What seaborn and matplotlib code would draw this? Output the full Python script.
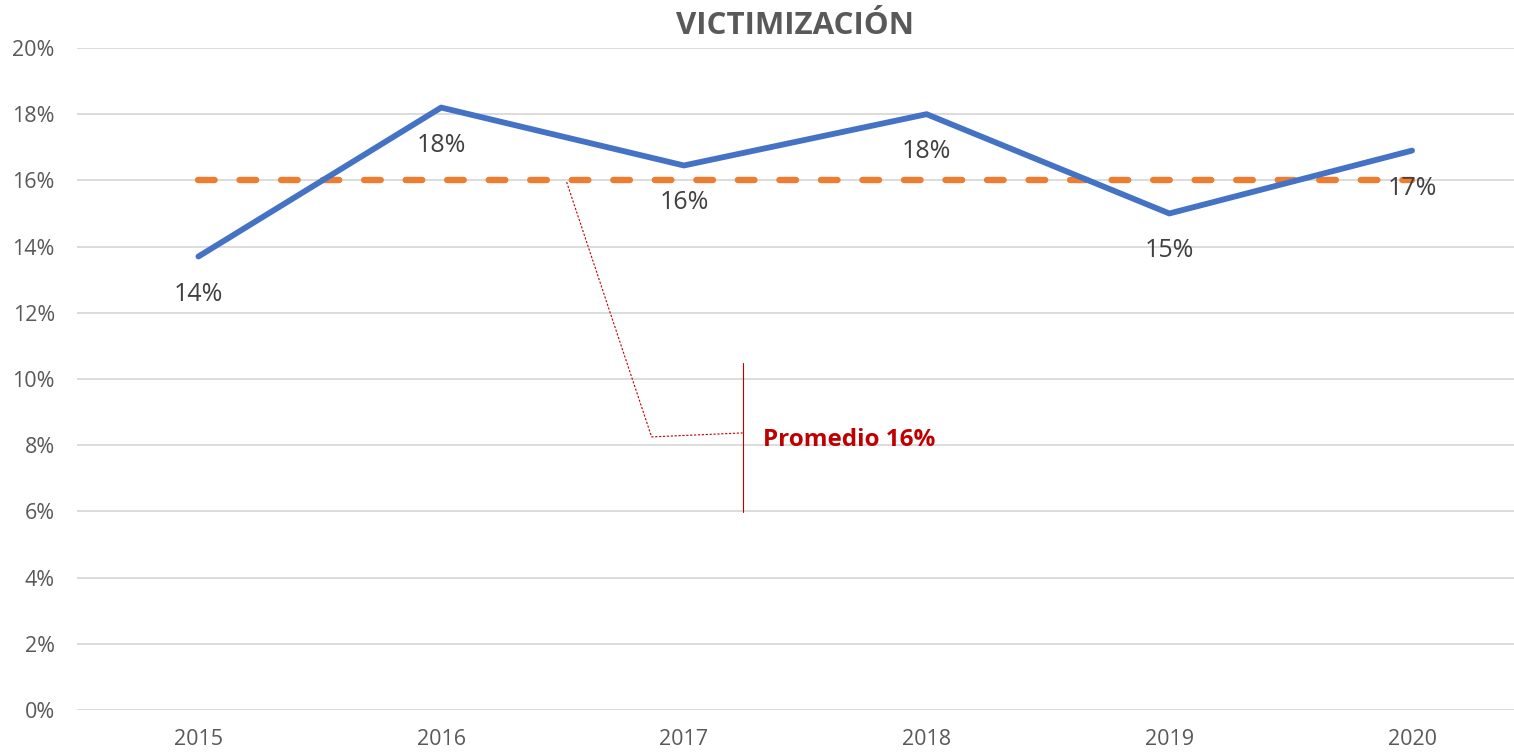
import pandas as pd
import matplotlib
matplotlib.use("Agg")
import matplotlib.pyplot as plt
import seaborn as sns
from matplotlib.ticker import FuncFormatter

# data
years = ["2015", "2016", "2017", "2018", "2019", "2020"]
victimizacion = [13.7, 18.2, 16.45, 18.0, 15.0, 16.9]
promedio = [16.0] * len(years)
title = "VICTIMIZACIÓN"
callout_text = "Promedio 16%"

df = pd.DataFrame({"year": years, "victimizacion": victimizacion, "promedio": promedio})

sns.set_theme(style="white")
plt.rcParams["font.family"] = ["Open Sans", "DejaVu Sans"]

fig = plt.figure(figsize=(15.14, 7.52), dpi=100)
ax = fig.add_axes([0.0509, 0.0559, 0.9491, 0.8803])

gray = "#595959"
blue = "#4472C4"
orange = "#ED7D31"
red = "#C00000"

sns.lineplot(data=df, x="year", y="victimizacion", ax=ax, color=blue, linewidth=4.2,
             solid_capstyle="round", zorder=3)
sns.lineplot(data=df, x="year", y="promedio", ax=ax, color=orange, linewidth=4.6,
             dashes=False, zorder=2)
ax.lines[-1].set_dashes([2.6, 3.9])
ax.lines[-1].set_dash_capstyle("round")

# data labels under each point
for i, v in enumerate(victimizacion):
    ax.annotate(f"{round(v):.0f}%", (i, v), xytext=(0, -27), textcoords="offset points",
                ha="center", va="center", fontsize=18, color="#404040")

# callout for the average
ax.plot([1.517, 1.867, 2.242], [15.95, 8.25, 8.37], color=red, linewidth=0.8,
        linestyle=(0, (2, 1.5)), zorder=4)
ax.plot([2.242, 2.242], [10.48, 5.98], color=red, linewidth=0.8, zorder=4)
ax.text(2.325, 8.16, callout_text, color=red, fontsize=17.5, fontweight="bold",
        ha="left", va="center")

ax.set_ylim(0, 20)
ax.set_yticks(range(0, 21, 2))
ax.yaxis.set_major_formatter(FuncFormatter(lambda v, p: f"{v:.0f}%"))
ax.set_xlim(-0.5, 5.42)
ax.grid(axis="y", color="#D9D9D9", linewidth=1.3)
ax.set_axisbelow(True)
for s in ax.spines.values():
    s.set_visible(False)
ax.tick_params(axis="both", length=0, labelsize=15.5, labelcolor=gray)
ax.tick_params(axis="y", pad=16)
ax.tick_params(axis="x", pad=14)
ax.set_xlabel("")
ax.set_ylabel("")

fig.text(0.5254, 0.965, title, ha="center", va="center", fontsize=22.5,
         fontweight="bold", color=gray)

fig.savefig("out.png", dpi=100, facecolor="white")
